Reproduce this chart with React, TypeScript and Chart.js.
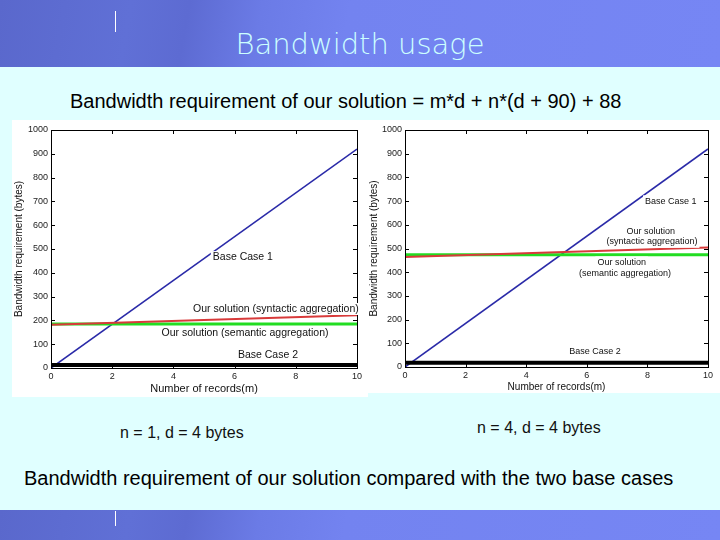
import React, { useEffect, useRef } from "react";
import { Chart, registerables } from "chart.js";

Chart.register(...registerables);

// ---------- data ----------
const records = [0, 10];
const xTicks = [0, 2, 4, 6, 8, 10];
const yTicks = [0, 100, 200, 300, 400, 500, 600, 700, 800, 900, 1000];

const baseCase1 = [0, 920];

const leftSyntactic = [182, 222];
const leftSemantic = [185, 185];
const leftBaseCase2 = [13, 13];

const rightSyntactic = [464, 504];
const rightSemantic = [474, 474];
const rightBaseCase2 = [18, 18];

const leftLabels = [
  { text: "Base Case 1", x: 6.27, y: 466 },
  { text: "Our solution (syntactic aggregation)", x: 7.35, y: 248 },
  { text: "Our solution (semantic aggregation)", x: 6.34, y: 147 },
  { text: "Base Case 2", x: 7.09, y: 55 },
];

const rightLabels = [
  { text: "Base Case 1", x: 8.77, y: 699 },
  { text: "Our solution", x: 8.11, y: 572 },
  { text: "(syntactic aggregation)", x: 8.15, y: 528 },
  { text: "Our solution", x: 7.15, y: 441 },
  { text: "(semantic aggregation)", x: 7.26, y: 394 },
  { text: "Base Case 2", x: 6.27, y: 64 },
];

const FONT = "'Liberation Sans', Arial, Helvetica, sans-serif";

const toPoints = (ys: number[]) => records.map((x, i) => ({ x, y: ys[i] }));

const matlabPlugin = {
  id: "matlabBox",
  beforeDraw(chart: any) {
    const { ctx, width, height } = chart;
    ctx.save();
    ctx.fillStyle = "#ffffff";
    ctx.fillRect(0, 0, width, height);
    ctx.restore();
  },
  afterDatasetsDraw(chart: any, _args: any, opts: any) {
    const { ctx, chartArea } = chart;
    const { left, right, top, bottom } = chartArea;
    const xs = chart.scales.x;
    const ys = chart.scales.y;
    ctx.save();
    ctx.strokeStyle = "#000";
    ctx.lineWidth = 1;
    ctx.strokeRect(Math.round(left) + 0.5, Math.round(top) + 0.5, Math.round(right - left), Math.round(bottom - top));
    const tl = 4;
    ctx.beginPath();
    xs.ticks.forEach((t: any) => {
      const px = Math.round(xs.getPixelForValue(t.value)) + 0.5;
      ctx.moveTo(px, bottom);
      ctx.lineTo(px, bottom - tl);
      ctx.moveTo(px, top);
      ctx.lineTo(px, top + tl);
    });
    ys.ticks.forEach((t: any) => {
      const py = Math.round(ys.getPixelForValue(t.value)) + 0.5;
      ctx.moveTo(left, py);
      ctx.lineTo(left + tl, py);
      ctx.moveTo(right, py);
      ctx.lineTo(right - tl, py);
    });
    ctx.stroke();

    ctx.font = `${opts.labelSize || 10}px ${FONT}`;
    ctx.textAlign = "center";
    ctx.textBaseline = "middle";
    (opts.labels || []).forEach((l: any) => {
      const px = xs.getPixelForValue(l.x);
      const py = ys.getPixelForValue(l.y);
      const w = ctx.measureText(l.text).width;
      ctx.fillStyle = "#ffffff";
      ctx.fillRect(px - w / 2 - 2, py - 6, w + 4, 12);
      ctx.fillStyle = "#111";
      ctx.fillText(l.text, px, py);
    });
    ctx.restore();
  },
};

function makeConfig(
  syntactic: number[],
  semantic: number[],
  base2: number[],
  labels: any[],
  labelSize: number,
  titleSize: number,
  yWidth: number,
  xHeight: number,
  padRight: number,
  yTitlePad: number,
  xTitlePad: number
): any {
  return {
    type: "line",
    data: {
      datasets: [
        { label: "Base Case 2", data: toPoints(base2), borderColor: "#000000", borderWidth: 4, pointRadius: 0 },
        { label: "Our solution (syntactic aggregation)", data: toPoints(syntactic), borderColor: "#d83a3a", borderWidth: 2, pointRadius: 0 },
        { label: "Our solution (semantic aggregation)", data: toPoints(semantic), borderColor: "#22dd22", borderWidth: 3, pointRadius: 0 },
        { label: "Base Case 1", data: toPoints(baseCase1), borderColor: "#2a2aa8", borderWidth: 1.6, pointRadius: 0 },
      ],
    },
    options: {
      animation: false,
      responsive: false,
      maintainAspectRatio: false,
      devicePixelRatio: 1,
      layout: { padding: { left: 0, top: 10, right: padRight, bottom: 0 } },
      plugins: {
        legend: { display: false },
        tooltip: { enabled: false },
        matlabBox: { labels, labelSize },
      },
      scales: {
        x: {
          type: "linear",
          min: 0,
          max: 10,
          afterBuildTicks: (s: any) => {
            s.ticks = xTicks.map((v) => ({ value: v }));
          },
          afterFit: (s: any) => {
            s.height = xHeight;
          },
          grid: { display: false, drawTicks: false },
          border: { display: false },
          ticks: {
            font: { size: 9, family: FONT },
            color: "#222",
            padding: 3,
            maxRotation: 0,
            callback: (v: any) => String(v),
          },
          title: {
            display: true,
            text: "Number of records(m)",
            font: { size: titleSize, family: FONT },
            color: "#111",
            padding: { top: 0, bottom: xTitlePad },
          },
        },
        y: {
          type: "linear",
          min: 0,
          max: 1000,
          afterBuildTicks: (s: any) => {
            s.ticks = yTicks.map((v) => ({ value: v }));
          },
          afterFit: (s: any) => {
            s.width = yWidth;
          },
          grid: { display: false, drawTicks: false },
          border: { display: false },
          ticks: {
            font: { size: 9, family: FONT },
            color: "#222",
            padding: 3,
            callback: (v: any) => String(v),
          },
          title: {
            display: true,
            text: "Bandwidth requirement (bytes)",
            font: { size: 10, family: FONT },
            color: "#111",
            padding: { top: yTitlePad, bottom: 0 },
          },
        },
      },
    },
    plugins: [matlabPlugin],
  };
}

function ChartCanvas({ config, width, height, style }: any) {
  const ref = useRef<HTMLCanvasElement | null>(null);
  useEffect(() => {
    if (!ref.current) return;
    const chart = new Chart(ref.current, config);
    return () => chart.destroy();
  }, []);
  return <canvas ref={ref} width={width} height={height} style={{ position: "absolute", width, height, ...style }} />;
}

export default function App() {
  const band =
    "linear-gradient(100deg, #5a68cc 0%, #6070d6 18%, #5d6bd2 26%, #6b7be6 36%, #7383f0 48%, #7686f4 100%)";
  const text: React.CSSProperties = {
    position: "absolute",
    whiteSpace: "nowrap",
    fontFamily: FONT,
    color: "#000",
  };
  return (
    <div
      style={{
        position: "fixed",
        left: 0,
        top: 0,
        width: 720,
        height: 540,
        background: "#e0ffff",
        overflow: "hidden",
      }}
    >
      <div style={{ position: "absolute", left: 0, top: 0, width: 720, height: 67, background: band }} />
      <div style={{ position: "absolute", left: 115, top: 11, width: 1, height: 21, background: "#ffffff" }} />
      <div
        style={{
          position: "absolute",
          left: 0,
          top: 26,
          width: 720,
          textAlign: "center",
          fontFamily: "'DejaVu Sans', sans-serif",
          fontWeight: 200,
          fontSize: 29,
          lineHeight: "36px",
          color: "#ccffff",
        }}
      >
        Bandwidth usage
      </div>

      <div style={{ ...text, left: 70, top: 90, fontSize: 20, lineHeight: "22px" }}>
        Bandwidth requirement of our solution = m*d + n*(d + 90) + 88
      </div>

      <ChartCanvas
        config={makeConfig(leftSyntactic, leftSemantic, leftBaseCase2, leftLabels, 10.5, 11, 39, 29, 11, 1, 1)}
        width={356}
        height={277}
        style={{ left: 12, top: 120 }}
      />
      <ChartCanvas
        config={makeConfig(rightSyntactic, rightSemantic, rightBaseCase2, rightLabels, 9, 10, 37, 26, 12, 0, 0)}
        width={352}
        height={273}
        style={{ left: 368, top: 120 }}
      />

      <div style={{ ...text, left: 120, top: 424, fontSize: 16, lineHeight: "18px", color: "#111" }}>
        n = 1, d = 4 bytes
      </div>
      <div style={{ ...text, left: 477, top: 419, fontSize: 16, lineHeight: "18px", color: "#111" }}>
        n = 4, d = 4 bytes
      </div>

      <div style={{ ...text, left: 24, top: 467, fontSize: 20, lineHeight: "22px" }}>
        Bandwidth requirement of our solution compared with the two base cases
      </div>

      <div style={{ position: "absolute", left: 0, top: 510, width: 720, height: 30, background: band }} />
      <div style={{ position: "absolute", left: 115, top: 511, width: 1, height: 15, background: "#ffffff" }} />
    </div>
  );
}
